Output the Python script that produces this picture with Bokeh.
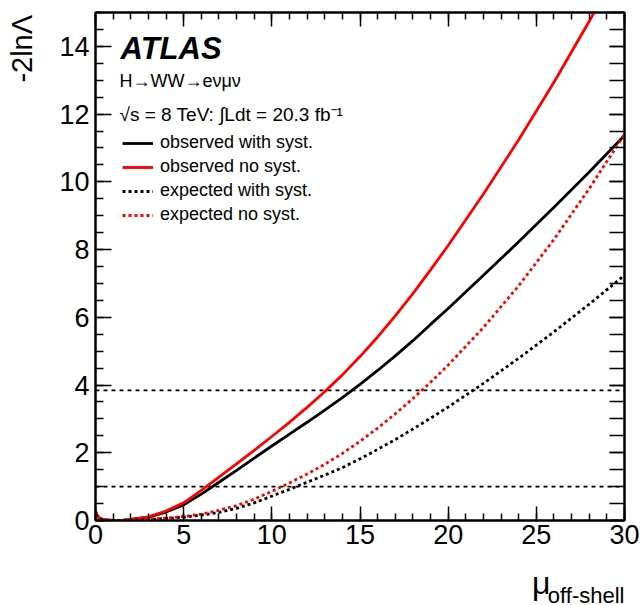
import math
from bokeh.plotting import figure
from bokeh.models import (Range1d, LinearAxis, SingleIntervalTicker, Span, Label,
                          Legend, LegendItem, CustomJSTickFormatter, Title)
from bokeh.embed import file_html
from bokeh.resources import INLINE

# ---- data ----
mu = [0, 0.2, 0.5, 1, 1.5, 2, 3, 4, 5, 6, 7, 8, 9, 10, 11, 12, 13, 14, 15,
      16, 17, 18, 19, 20, 22, 24, 26, 28, 30]
obs_syst = [0.22, 0.07, 0.02, 0.0, 0.0, 0.03, 0.10, 0.25, 0.46, 0.78, 1.13, 1.48,
            1.84, 2.20, 2.55, 2.90, 3.26, 3.63, 4.02, 4.43, 4.86, 5.31, 5.79, 6.26,
            7.24, 8.23, 9.25, 10.29, 11.37]
obs_nosyst = [0.22, 0.07, 0.02, 0.0, 0.0, 0.03, 0.11, 0.28, 0.52, 0.89, 1.28, 1.67,
              2.07, 2.48, 2.90, 3.34, 3.80, 4.30, 4.84, 5.42, 6.04, 6.70, 7.40, 8.12,
              9.64, 11.24, 12.94, 14.74, 16.62]
exp_syst = [0.20, 0.06, 0.02, 0.0, 0.0, 0.01, 0.03, 0.06, 0.10, 0.16, 0.24, 0.36,
            0.52, 0.72, 0.92, 1.13, 1.34, 1.56, 1.82, 2.10, 2.39, 2.70, 3.02, 3.35,
            4.05, 4.79, 5.57, 6.39, 7.24]
exp_nosyst = [0.28, 0.08, 0.02, 0.0, 0.0, 0.01, 0.035, 0.07, 0.12, 0.19, 0.30, 0.44,
              0.63, 0.86, 1.11, 1.37, 1.66, 1.98, 2.34, 2.73, 3.15, 3.60, 4.08, 4.59,
              5.70, 6.93, 8.30, 9.80, 11.40]
thresholds = [1.0, 3.84]
legend_labels = ["observed with syst.", "observed no syst.",
                 "expected with syst.", "expected no syst."]

FONT = "Liberation Sans"
FW, FH = 529, 508

p = figure(frame_width=FW, frame_height=FH,
           x_range=Range1d(0, 30), y_range=Range1d(0, 15),
           output_backend="svg", toolbar_location=None,
           min_border_left=95, min_border_right=17, min_border_top=12,
           min_border_bottom=85)
p.grid.visible = False
p.outline_line_color = "black"
p.outline_line_width = 2
p.background_fill_color = "white"
p.border_fill_color = "white"


def style(ax, major_in, minor_in, labels=True, standoff=5):
    ax.major_tick_in = major_in
    ax.major_tick_out = 0
    ax.minor_tick_in = minor_in
    ax.minor_tick_out = 0
    ax.axis_line_width = 2
    ax.axis_line_color = "black"
    ax.major_tick_line_width = 1.5
    ax.minor_tick_line_width = 1.5
    ax.major_tick_line_color = "black"
    ax.minor_tick_line_color = "black"
    ax.major_label_text_font = FONT
    ax.major_label_text_color = "black"
    ax.major_label_text_font_size = "27px"
    ax.major_label_standoff = standoff if labels else 0
    if not labels:
        ax.formatter = CustomJSTickFormatter(code="return ''")


xb = p.xaxis[0]
yl = p.yaxis[0]
xb.ticker = SingleIntervalTicker(interval=5, num_minor_ticks=5)
yl.ticker = SingleIntervalTicker(interval=2, num_minor_ticks=4)
style(xb, 14, 7, True, 4)
style(yl, 16, 8, True, 6)

# y axis title, at the top end of the axis (label is centred on the end,
# so trailing no-break spaces push the visible text below the frame top)
yl.axis_label = "-2ln\u039b" + "\u00a0" * 9
yl.axis_label_text_font = FONT
yl.axis_label_text_font_size = "29px"
yl.axis_label_text_font_style = "normal"
yl.axis_label_text_color = "black"
yl.axis_label_standoff = 18
for a in ("end", "right"):
    try:
        yl.axis_label_align = a
        break
    except Exception:
        pass

xt = LinearAxis(ticker=SingleIntervalTicker(interval=5, num_minor_ticks=5))
style(xt, 14, 7, False)
p.add_layout(xt, "above")
yr = LinearAxis(ticker=SingleIntervalTicker(interval=2, num_minor_ticks=4))
style(yr, 15, 15, False)
p.add_layout(yr, "right")

for t in thresholds:
    p.add_layout(Span(location=t, dimension="width", line_color="black",
                      line_width=1.8, line_dash="4 4", level="underlay"))

r1 = p.line(mu, obs_syst, line_color="black", line_width=2.8)
r2 = p.line(mu, obs_nosyst, line_color="red", line_width=2.8)
r3 = p.line(mu, exp_syst, line_color="black", line_width=2.8, line_dash="3 3")
r4 = p.line(mu, exp_nosyst, line_color="red", line_width=2.8, line_dash="3 3")

legend = Legend(items=[LegendItem(label=l, renderers=[r]) for l, r in
                       zip(legend_labels, [r1, r2, r3, r4])],
                location=(27, 295), padding=0, margin=0, spacing=3,
                glyph_width=31, glyph_height=20, label_height=20,
                label_standoff=7, label_text_font=FONT,
                label_text_font_size="18px", label_text_color="black",
                background_fill_alpha=0, border_line_alpha=0)
p.add_layout(legend, "center")

# texts inside the frame
p.add_layout(Label(x=1.42, y=13.93, text="ATLAS", text_font=FONT,
                   text_baseline="alphabetic",
                   text_font_size="31px", text_font_style="bold italic",
                   text_color="black"))
p.add_layout(Label(x=1.36, y=12.98, text="H\u2192WW\u2192e\u03bd\u03bc\u03bd",
                   text_baseline="alphabetic",
                   text_font=FONT, text_font_size="18px", text_color="black"))
p.add_layout(Label(x=1.36, y=12.0,
                   text="\u221as = 8 TeV: \u222bLdt = 20.3 fb\u207b\u00b9",
                   text_baseline="alphabetic",
                   text_font=FONT, text_font_size="19px", text_color="black"))

# x axis title: "mu" with subscript "off-shell", right aligned under the axis
t_mu = Title(text="\u03bc", align="right", vertical_align="top", offset=74,
             standoff=36, text_font=FONT, text_font_size="32px",
             text_font_style="normal", text_color="black")
t_sub = Title(text="off-shell", align="right", vertical_align="top", offset=0,
              standoff=-76, text_font=FONT, text_font_size="22px",
              text_font_style="normal", text_color="black")
p.add_layout(t_mu, "below")
p.add_layout(t_sub, "below")

open("out.html", "w").write(file_html(p, INLINE))
